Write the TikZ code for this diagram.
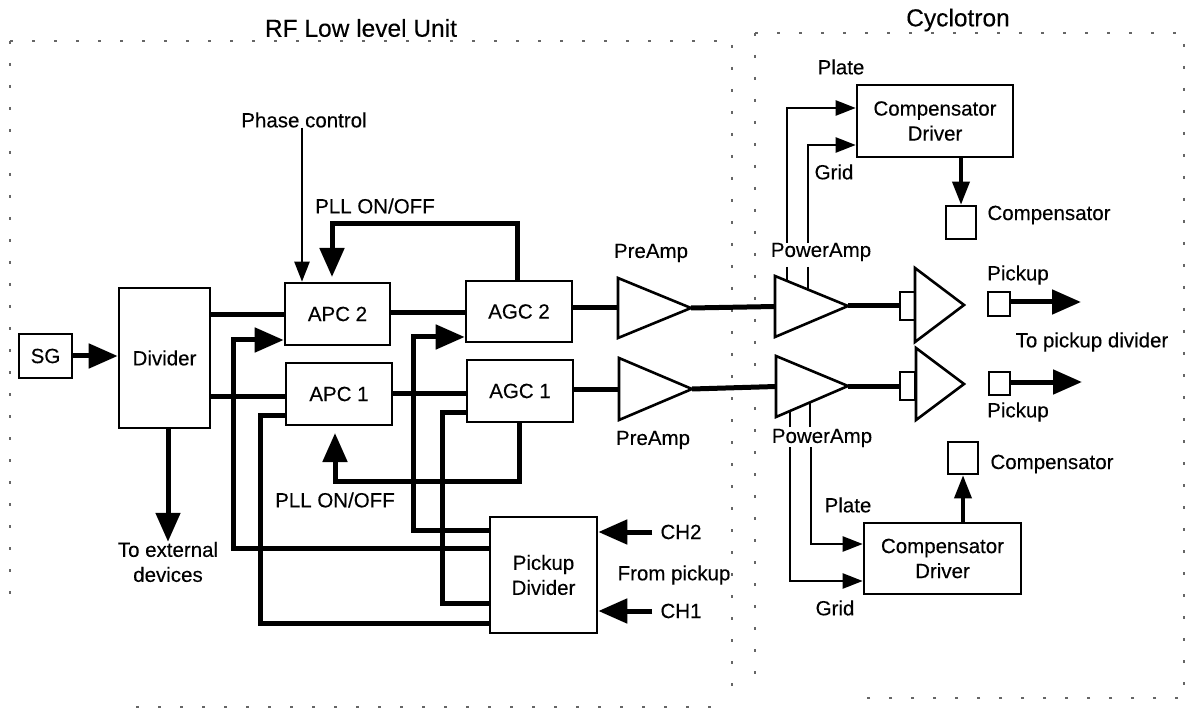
\documentclass[tikz,border=0pt]{standalone}
\usepackage{fontspec}
\setmainfont{Liberation Sans}[FakeBold=0.25]
\usepackage{tikz}
\usetikzlibrary{calc,arrows.meta}
\tikzset{x=1pt, y=-1pt,
    every node/.style={font=\fontsize{20.5}{25}\selectfont, align=center, inner sep=0pt},
    title text/.style={font=\fontsize{24.5}{28}\selectfont},
    block/.style={draw=black, line width=2.6pt, fill=white},
    amp/.style={draw=black, line width=2.6pt, fill=white, line join=miter},
    heavy line/.style={draw=black, line width=5pt},
    medium line/.style={draw=black, line width=3.6pt},
    light line/.style={draw=black, line width=2.4pt},
    big head/.style={-{Triangle[length=29pt,width=24pt]}},
    mid head/.style={-{Triangle[length=23pt,width=17pt]}},
    small head/.style={-{Triangle[length=20pt,width=15pt]}},
    help frame/.style={draw=black!60, line width=1.3pt, dash pattern=on 3pt off 19pt}
}
\def\Block#1#2#3#4#5#6{%
  \node[block, minimum width={(#4-#2)*1pt}, minimum height={(#5-#3)*1pt}] (#1)
     at ({(#2+#4)/2},{(#3+#5)/2}) {#6};
}
\def\Amp#1#2#3#4#5#6{%
  \coordinate (#1-w) at (#2,{(#3+#4)/2});
  \coordinate (#1-tip) at (#5,#6);
  \draw[amp] (#2,#3) -- (#1-tip) -- (#2,#4) -- cycle;
}

\begin{document}
\begin{tikzpicture}
\useasboundingbox (0,0) rectangle (1189,711);
\fill[white] (0,0) rectangle (1189,711);
% scan remains of the two frames
\draw[help frame] (10,41) -- (732,41) -- (732,700);
\draw[help frame] (10,41) -- (10,600);
\draw[help frame] (136,707) -- (712,707);
\draw[help frame] (755,33) -- (1184,33) -- (1184,698) -- (856,698);
\draw[help frame] (755,33) -- (755,680);
\node[title text] (rftitle) at (361,28) {RF Low level Unit};
\node[title text] (cyctitle) at (958,20) {Cyclotron};

% left half
\Block{sg}{19}{334}{72}{378}{SG}
\Block{divider}{119}{288}{210}{428}{Divider}
\Block{apcb}{285}{283}{390}{345}{APC 2}
\Block{apca}{286}{363}{392}{425}{APC 1}
\Block{agcb}{466}{281}{572}{342}{AGC 2}
\Block{agca}{467}{360}{573}{422}{AGC 1}
\Block{pkdiv}{490}{517}{597}{633}{Pickup\\Divider}

\node (phase) at (304,120) {Phase control};
\node (pllb) at (375,206) {PLL ON/OFF};
\node (plla) at (335,500) {PLL ON/OFF};
\node (external) at (168,562) {To external\\devices};
\node (chb) at (681,532) {CH2};
\node (cha) at (681,611) {CH1};
\node (frompk) at (674,575) {From pickup};

\draw[heavy line,big head] (sg.east) -- (divider.west |- sg.east);
\draw[heavy line] (divider.east |- 0,315) -- (apcb.west |- 0,315);
\draw[heavy line] (divider.east |- 0,396) -- (apca.west |- 0,396);
\draw[heavy line] (apcb.east |- 0,313) -- (agcb.west |- 0,313);
\draw[heavy line] (apca.east |- 0,393) -- (agca.west |- 0,393);
\draw[heavy line,big head] (divider.south -| 168,0) -- (external.north -| 168,0);
\draw[light line,small head] (phase.south -| 302,0) -- (apcb.north -| 302,0);
\draw[heavy line,big head] (agcb.north -| 517,0) -- (517,224) -- (332,224) -- (332,277);
\draw[heavy line,big head] (agca.south -| 519,0) -- (519,481) -- (335,481) -- (335,433);
% pickup divider feeds
\draw[heavy line,big head] (pkdiv.west |- 0,548) -- (233,548) -- (233,340) -- (apcb.west |- 0,340);
\draw[heavy line,big head] (pkdiv.west |- 0,530) -- (413,530) -- (413,337) -- (agcb.west |- 0,337);
\draw[heavy line] (pkdiv.west |- 0,603) -- (442,603) -- (442,412) -- (agca.west |- 0,412);
\draw[heavy line] (pkdiv.west |- 0,623) -- (260,623) -- (260,415) -- (apca.west |- 0,415);
\draw[heavy line,big head] (chb.west) ++(-8,0) -- (pkdiv.east |- chb.west);
\draw[heavy line,big head] (cha.west) ++(-8,0) -- (pkdiv.east |- cha.west);

% amplifiers
\draw[light line] (787,267) -- (787,285);
\draw[light line] (808,267) -- (808,295);
\draw[light line] (790,427) -- (790,405);
\draw[light line] (810,427) -- (810,395);
\Amp{preb}{618}{278}{338}{691}{308}
\Amp{prea}{619}{358}{420}{692}{389}
\Amp{powb}{775}{276}{337}{848}{306}
\Amp{powa}{776}{356}{417}{848}{386}
\node (prebtxt) at (651,253) {PreAmp};
\node (preatxt) at (653,440) {PreAmp};
\node (powbtxt) at (821,252) {PowerAmp};
\node (powatxt) at (822,438) {PowerAmp};
\draw[heavy line] (agcb.east |- preb-w) -- (preb-w);
\draw[heavy line] (agca.east |- prea-w) -- (prea-w);
\draw[heavy line] (preb-tip) -- (powb-w);
\draw[heavy line] (prea-tip) -- (powa-w);

% right half
\Block{cavb}{900}{292}{915}{320}{}
\Block{cava}{900}{372}{915}{400}{}
\Amp{cavtrib}{915}{268}{342}{964}{305}
\Amp{cavtria}{916}{348}{420}{964}{384}
\draw[heavy line] (powb-tip) -- (cavb.west |- powb-tip);
\draw[heavy line] (powa-tip) -- (cava.west |- powa-tip);
\Block{pickb}{988}{292}{1010}{316}{}
\Block{picka}{989}{372}{1010}{395}{}
\coordinate (outb) at (1081,302);
\coordinate (outa) at (1082,382);
\draw[heavy line,big head] (pickb.east |- outb) -- (outb);
\draw[heavy line,big head] (picka.east |- outa) -- (outa);
\node (pickbtxt) at (1018,275) {Pickup};
\node (pickatxt) at (1018,412) {Pickup};
\node (todiv) at (1092,342) {To pickup divider};

\Block{drvb}{857}{85}{1013}{157}{Compensator\\Driver}
\Block{drva}{864}{523}{1021}{594}{Compensator\\Driver}
\Block{compb}{946}{206}{976}{239}{}
\Block{compa}{948}{442}{978}{474}{}
\node (compbtxt) at (1049,215) {Compensator};
\node (compatxt) at (1052,464) {Compensator};
\node (platebtxt) at (841,67) {Plate};
\node (gridbtxt) at (834,172) {Grid};
\node (plateatxt) at (848,505) {Plate};
\node (gridatxt) at (835,608) {Grid};
\draw[medium line,mid head] (drvb.south -| compb.north) -- (compb.north);
\draw[medium line,mid head] (drva.north -| compa.south) -- (compa.south);
\draw[light line,small head] (powbtxt.north -| 787,0) -- (787,108) -- (drvb.west |- 0,108);
\draw[light line,small head] (powbtxt.north -| 808,0) -- (808,145) -- (drvb.west |- 0,145);
\draw[light line,small head] (powatxt.south -| 811,0) -- (811,544) -- (drva.west |- 0,544);
\draw[light line,small head] (powatxt.south -| 790,0) -- (790,581) -- (drva.west |- 0,581);
\end{tikzpicture}
\end{document}
